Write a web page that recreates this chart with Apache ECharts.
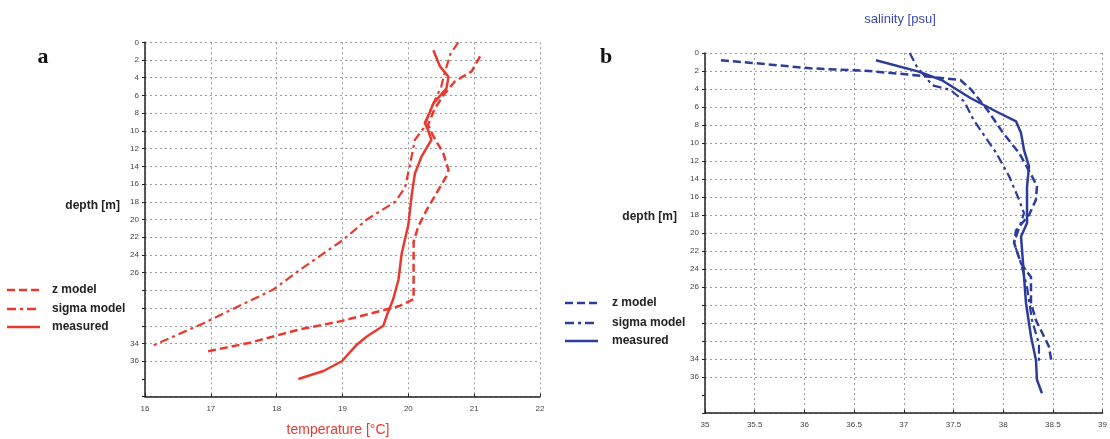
<!DOCTYPE html>
<html><head><meta charset="utf-8">
<script src="https://cdn.jsdelivr.net/npm/echarts@6/dist/echarts.min.js"></script>
<style>html,body{margin:0;padding:0;background:#fff}#c{width:1110px;height:439px}</style>
</head><body><div id="c"></div>
<script>
// ---- Panel a: temperature ----
const tZDepth = [1.6, 3.3, 4.4, 5.8, 7.5, 9.3, 10.6, 12.5, 14.4, 15.1, 17.0, 18.9, 20.8, 22.5, 29.0, 29.8, 31.5, 32.4, 33.9, 34.9];
const tZTemp  = [21.09, 20.96, 20.71, 20.55, 20.4, 20.3, 20.38, 20.53, 20.61, 20.58, 20.43, 20.28, 20.15, 20.08, 20.08, 19.85, 18.96, 18.35, 17.6, 16.94];
const tSDepth = [0, 1.3, 3.5, 5.0, 6.9, 9.7, 11.0, 13.6, 16.4, 18.0, 20.0, 22.3, 25.7, 27.9, 31.7, 34.3];
const tSTemp  = [20.76, 20.64, 20.55, 20.5, 20.38, 20.23, 20.1, 20.03, 19.95, 19.8, 19.37, 19.01, 18.35, 17.95, 16.89, 16.1];
const tMDepth = [0.9, 2.7, 3.9, 5.2, 6.9, 7.8, 9.1, 9.9, 11.0, 12.9, 14.8, 17.3, 20.6, 23.8, 26.8, 29.0, 30.9, 32.0, 33.2, 34.1, 36.0, 37.1, 38.0];
const tMTemp  = [20.38, 20.48, 20.61, 20.58, 20.38, 20.33, 20.25, 20.3, 20.35, 20.2, 20.1, 20.05, 20.0, 19.9, 19.85, 19.77, 19.67, 19.62, 19.37, 19.22, 18.99, 18.71, 18.33];
// ---- Panel b: salinity ----
const sZDepth = [0.8, 1.1, 1.7, 2.0, 2.4, 3.0, 4.1, 6.3, 8.9, 11.1, 13.7, 14.8, 16.3, 18.0, 19.7, 21.1, 23.4, 24.9, 27.8, 29.7, 32.6, 34.5];
const sZSal   = [35.16, 35.47, 36.06, 36.65, 37.05, 37.57, 37.68, 37.84, 38.0, 38.16, 38.29, 38.34, 38.33, 38.26, 38.13, 38.11, 38.18, 38.28, 38.28, 38.33, 38.46, 38.49];
const sSDepth = [0, 1.5, 3.6, 4.1, 5.4, 7.4, 11.1, 13.7, 16.3, 17.8, 21.1, 23.4, 26.0, 29.7, 32.3, 34.5];
const sSSal   = [37.06, 37.13, 37.29, 37.47, 37.61, 37.70, 37.93, 38.06, 38.16, 38.21, 38.11, 38.18, 38.24, 38.29, 38.36, 38.36];
const sMDepth = [0.8, 2.07, 3.0, 5.0, 6.5, 7.6, 8.9, 10.8, 12.6, 14.9, 18.9, 20.4, 23.4, 27.8, 31.5, 34.1, 36.3, 37.8];
const sMSal   = [36.72, 37.15, 37.38, 37.67, 37.93, 38.13, 38.18, 38.21, 38.26, 38.24, 38.24, 38.18, 38.2, 38.23, 38.28, 38.33, 38.34, 38.39];
const depthTicksHidden = [28, 30, 32, 38, 40];
const seriesNames = ['z model', 'sigma model', 'measured'];

const RED = '#e8392f', BLUE = '#2c3c9a';
const pairs = (xs, ys) => xs.map((x, i) => [x, ys[i]]);
const gridColors = [];
for (let i = 0; i <= 20; i++) gridColors.push(i === 19 ? 'rgba(0,0,0,0)' : '#9a9a9a');
const DASH = [8, 4], DASHDOT = [9, 4, 3, 4];

function yAx(gi) {
  return {
    gridIndex: gi, type: 'value', inverse: true, min: 0, max: 40, interval: 2,
    axisLine: {show: true, lineStyle: {color: '#222', width: 1.5}},
    axisTick: {show: true, inside: false, length: 3, lineStyle: {color: '#222'}},
    axisLabel: {fontSize: 8, color: '#444', fontFamily: 'Liberation Sans', margin: 6,
      formatter: v => depthTicksHidden.includes(v) ? '' : String(v)},
    splitLine: {show: true, lineStyle: {type: [2, 3], color: gridColors, width: 1}}
  };
}
function xAx(gi, min, max, interval) {
  return {
    gridIndex: gi, type: 'value', min, max, interval,
    axisLine: {show: true, onZero: false, lineStyle: {color: '#222', width: 1.5}},
    axisTick: {show: true, inside: true, length: 3, lineStyle: {color: '#222'}},
    axisLabel: {fontSize: 8, color: '#444', fontFamily: 'Liberation Sans', margin: 8, showMaxLabel: true},
    splitLine: {show: true, lineStyle: {type: [2, 3], color: '#9a9a9a', width: 1}}
  };
}
function ser(name, gi, data, color, dash, w) {
  return {name, type: 'line', xAxisIndex: gi, yAxisIndex: gi, data, showSymbol: false, symbol: 'none',
    lineStyle: {color, width: w, type: dash}, silent: true, animation: false, z: 3};
}

const chart = echarts.init(document.getElementById('c'), null, {renderer: 'canvas'});

function legend(x0, x1, xt, ys, color) {
  const dashes = [DASH, DASHDOT, 'solid'];
  const out = [];
  ys.forEach((y, i) => {
    out.push({type: 'line', shape: {x1: x0, y1: y, x2: x1, y2: y},
      style: {stroke: color, lineWidth: 2.5, lineDash: dashes[i] === 'solid' ? null : dashes[i]}});
    out.push({type: 'text', x: xt, y: y, style: {text: seriesNames[i], fill: '#222', font: 'bold 12px "Liberation Sans"', verticalAlign: 'middle'}});
  });
  return out;
}

chart.setOption({
  animation: false,
  grid: [
    {left: 145, top: 42.3, width: 395, height: 354.4, containLabel: false},
    {left: 705, top: 53, width: 407, height: 360, containLabel: false}
  ],
  xAxis: [xAx(0, 16, 22, 1), xAx(1, 35, 39, 0.5)],
  yAxis: [yAx(0), yAx(1)],
  series: [
    ser(seriesNames[0], 0, pairs(tZTemp, tZDepth), RED, DASH, 2.5),
    ser(seriesNames[1], 0, pairs(tSTemp, tSDepth), RED, DASHDOT, 2.2),
    ser(seriesNames[2], 0, pairs(tMTemp, tMDepth), RED, 'solid', 2.5),
    ser(seriesNames[0], 1, pairs(sZSal, sZDepth), BLUE, DASH, 2.5),
    ser(seriesNames[1], 1, pairs(sSSal, sSDepth), BLUE, DASHDOT, 2.2),
    ser(seriesNames[2], 1, pairs(sMSal, sMDepth), BLUE, 'solid', 2.5)
  ],
  graphic: [
    {type: 'text', x: 43, y: 57, style: {text: 'a', fill: '#111', font: 'bold 22px "Liberation Serif"', align: 'center', verticalAlign: 'middle'}},
    {type: 'text', x: 606, y: 57, style: {text: 'b', fill: '#111', font: 'bold 22px "Liberation Serif"', align: 'center', verticalAlign: 'middle'}},
    {type: 'text', x: 120, y: 206, style: {text: 'depth [m]', fill: '#222', font: 'bold 12px "Liberation Sans"', align: 'right', verticalAlign: 'middle'}},
    {type: 'text', x: 677, y: 217, style: {text: 'depth [m]', fill: '#222', font: 'bold 12px "Liberation Sans"', align: 'right', verticalAlign: 'middle'}},
    {type: 'text', x: 338, y: 430, style: {text: 'temperature [°C]', fill: RED, font: '14px "Liberation Sans"', align: 'center', verticalAlign: 'middle'}},
    {type: 'text', x: 900, y: 19, style: {text: 'salinity [psu]', fill: '#3b4aa8', font: '13px "Liberation Sans"', align: 'center', verticalAlign: 'middle'}},
    ...legend(7, 40, 52, [290, 309, 327], RED),
    ...legend(565, 598, 612, [303, 323, 341], BLUE)
  ]
});
</script></body></html>
